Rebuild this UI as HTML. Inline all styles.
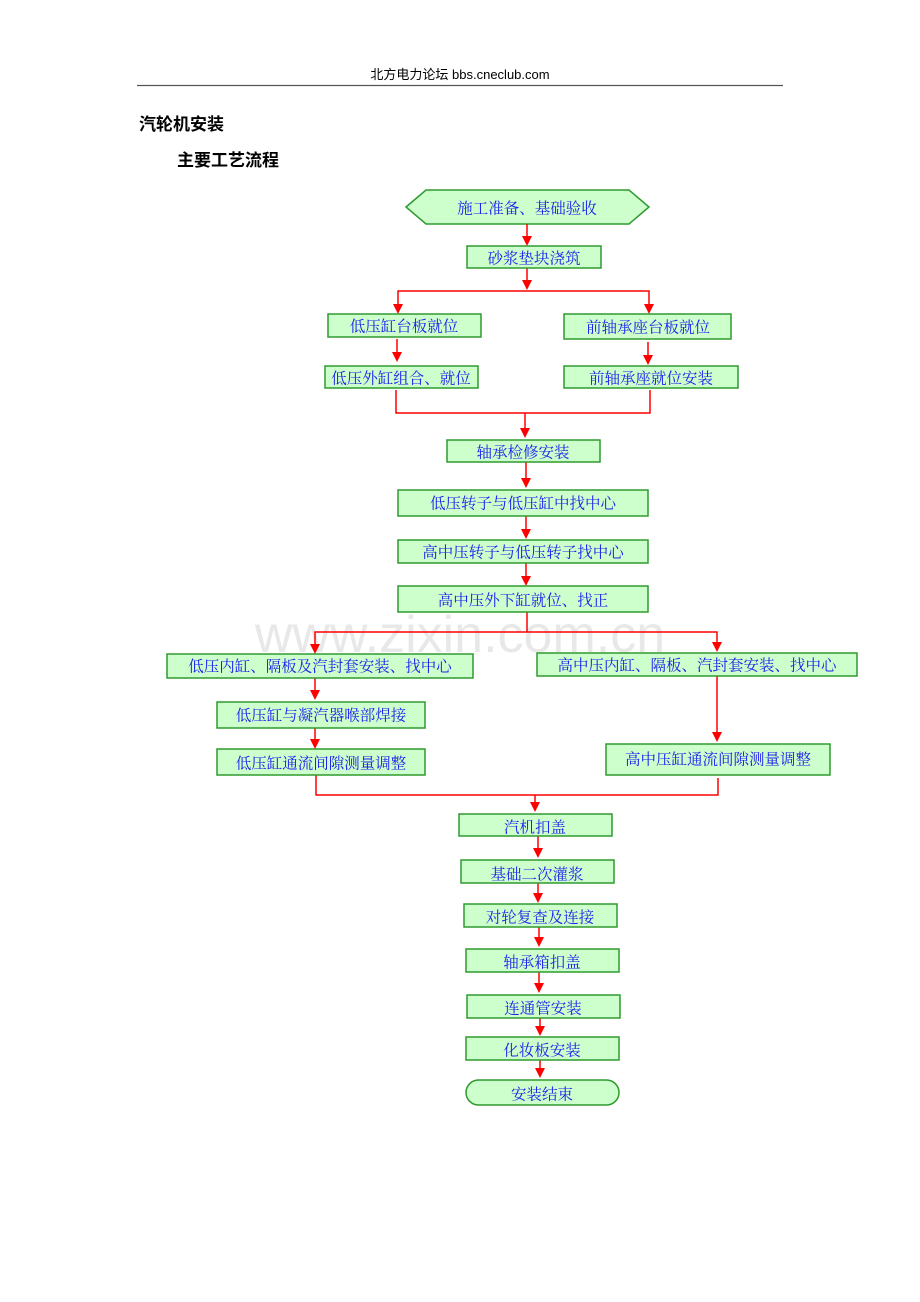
<!DOCTYPE html>
<html><head><meta charset="utf-8"><style>
html,body{margin:0;padding:0;background:#fff;}
svg{display:block;}
.b{fill:#ccffcc;stroke:#2e9a2e;stroke-width:1.5;}
.t{font-family:"Liberation Serif","Noto Serif CJK SC",serif;font-size:15.5px;fill:#2020ee;text-anchor:middle;dominant-baseline:central;}
.l{stroke:#ff0000;stroke-width:1.5;fill:none;}
.h{font-family:"Liberation Sans","Noto Sans CJK SC",sans-serif;fill:#000;}
</style></head><body>
<svg width="920" height="1302" viewBox="0 0 920 1302" xmlns="http://www.w3.org/2000/svg">
<text x="460" y="79" class="h" font-size="13" text-anchor="middle" fill="#333">北方电力论坛  bbs.cneclub.com</text>
<line x1="137" y1="85.5" x2="783" y2="85.5" stroke="#555" stroke-width="1.2"/>
<text x="139" y="130" class="h" font-size="17" font-weight="bold">汽轮机安装</text>
<text x="177" y="166" class="h" font-size="17" font-weight="bold">主要工艺流程</text>
<text x="460" y="652" font-family="Liberation Sans,sans-serif" font-size="52" fill="#e8e8e8" text-anchor="middle">www.zixin.com.cn</text>
<g>
<polygon class="b" points="406,207 426,190 629,190 649,207 629,224 426,224"/>
<text class="t" x="527" y="209">施工准备、基础验收</text>
</g>
<g class="l">
<line x1="527" y1="224" x2="527" y2="237"/>
<line x1="527" y1="268" x2="527" y2="281"/>
<polyline points="398,305 398,291 649,291 649,305"/>
<line x1="397" y1="339" x2="397" y2="353"/>
<line x1="648" y1="342" x2="648" y2="356"/>
<polyline points="396,390 396,413 650,413 650,390"/>
<line x1="525" y1="413" x2="525" y2="429"/>
<line x1="526" y1="462" x2="526" y2="479"/>
<line x1="526" y1="516" x2="526" y2="530"/>
<line x1="526" y1="563" x2="526" y2="577"/>
<line x1="527" y1="612" x2="527" y2="632"/>
<polyline points="315,645 315,632 717,632 717,643"/>
<line x1="315" y1="678" x2="315" y2="691"/>
<line x1="315" y1="728" x2="315" y2="740"/>
<line x1="717" y1="676" x2="717" y2="733"/>
<polyline points="316,775 316,795 718,795 718,778"/>
<line x1="535" y1="795" x2="535" y2="803"/>
<line x1="538" y1="836" x2="538" y2="849"/>
<line x1="538" y1="883" x2="538" y2="894"/>
<line x1="539" y1="927" x2="539" y2="938"/>
<line x1="539" y1="972" x2="539" y2="984"/>
<line x1="540" y1="1018" x2="540" y2="1027"/>
<line x1="540" y1="1060" x2="540" y2="1069"/>
</g>
<g fill="#ff0000">
<path d="M522,236 L532,236 L527,246 z"/>
<path d="M522,280 L532,280 L527,290 z"/>
<path d="M393,304 L403,304 L398,314 z"/>
<path d="M644,304 L654,304 L649,314 z"/>
<path d="M392,352 L402,352 L397,362 z"/>
<path d="M643,355 L653,355 L648,365 z"/>
<path d="M520,428 L530,428 L525,438 z"/>
<path d="M521,478 L531,478 L526,488 z"/>
<path d="M521,529 L531,529 L526,539 z"/>
<path d="M521,576 L531,576 L526,586 z"/>
<path d="M310,644 L320,644 L315,654 z"/>
<path d="M712,642 L722,642 L717,652 z"/>
<path d="M310,690 L320,690 L315,700 z"/>
<path d="M310,739 L320,739 L315,749 z"/>
<path d="M712,732 L722,732 L717,742 z"/>
<path d="M530,802 L540,802 L535,812 z"/>
<path d="M533,848 L543,848 L538,858 z"/>
<path d="M533,893 L543,893 L538,903 z"/>
<path d="M534,937 L544,937 L539,947 z"/>
<path d="M534,983 L544,983 L539,993 z"/>
<path d="M535,1026 L545,1026 L540,1036 z"/>
<path d="M535,1068 L545,1068 L540,1078 z"/>
</g>
<g>
<rect class="b" x="467" y="246" width="134" height="22"/><text class="t" x="534" y="259">砂浆垫块浇筑</text>
<rect class="b" x="328" y="314" width="153" height="23"/><text class="t" x="404" y="327">低压缸台板就位</text>
<rect class="b" x="564" y="314" width="167" height="25"/><text class="t" x="648" y="328">前轴承座台板就位</text>
<rect class="b" x="325" y="366" width="153" height="22"/><text class="t" x="401" y="379">低压外缸组合、就位</text>
<rect class="b" x="564" y="366" width="174" height="22"/><text class="t" x="651" y="379">前轴承座就位安装</text>
<rect class="b" x="447" y="440" width="153" height="22"/><text class="t" x="523" y="453">轴承检修安装</text>
<rect class="b" x="398" y="490" width="250" height="26"/><text class="t" x="523" y="504">低压转子与低压缸中找中心</text>
<rect class="b" x="398" y="540" width="250" height="23"/><text class="t" x="523" y="553">高中压转子与低压转子找中心</text>
<rect class="b" x="398" y="586" width="250" height="26"/><text class="t" x="523" y="601">高中压外下缸就位、找正</text>
<rect class="b" x="167" y="654" width="306" height="24"/><text class="t" x="320" y="667">低压内缸、隔板及汽封套安装、找中心</text>
<rect class="b" x="537" y="653" width="320" height="23"/><text class="t" x="697" y="666">高中压内缸、隔板、汽封套安装、找中心</text>
<rect class="b" x="217" y="702" width="208" height="26"/><text class="t" x="321" y="716">低压缸与凝汽器喉部焊接</text>
<rect class="b" x="217" y="749" width="208" height="26"/><text class="t" x="321" y="764">低压缸通流间隙测量调整</text>
<rect class="b" x="606" y="744" width="224" height="31"/><text class="t" x="718" y="760">高中压缸通流间隙测量调整</text>
<rect class="b" x="459" y="814" width="153" height="22"/><text class="t" x="535" y="828">汽机扣盖</text>
<rect class="b" x="461" y="860" width="153" height="23"/><text class="t" x="537" y="875">基础二次灌浆</text>
<rect class="b" x="464" y="904" width="153" height="23"/><text class="t" x="540" y="918">对轮复查及连接</text>
<rect class="b" x="466" y="949" width="153" height="23"/><text class="t" x="542" y="963">轴承箱扣盖</text>
<rect class="b" x="467" y="995" width="153" height="23"/><text class="t" x="543" y="1009">连通管安装</text>
<rect class="b" x="466" y="1037" width="153" height="23"/><text class="t" x="542" y="1051">化妆板安装</text>
<rect class="b" x="466" y="1080" width="153" height="25" rx="12.5"/><text class="t" x="542" y="1095">安装结束</text>
</g>
</svg>
</body></html>
